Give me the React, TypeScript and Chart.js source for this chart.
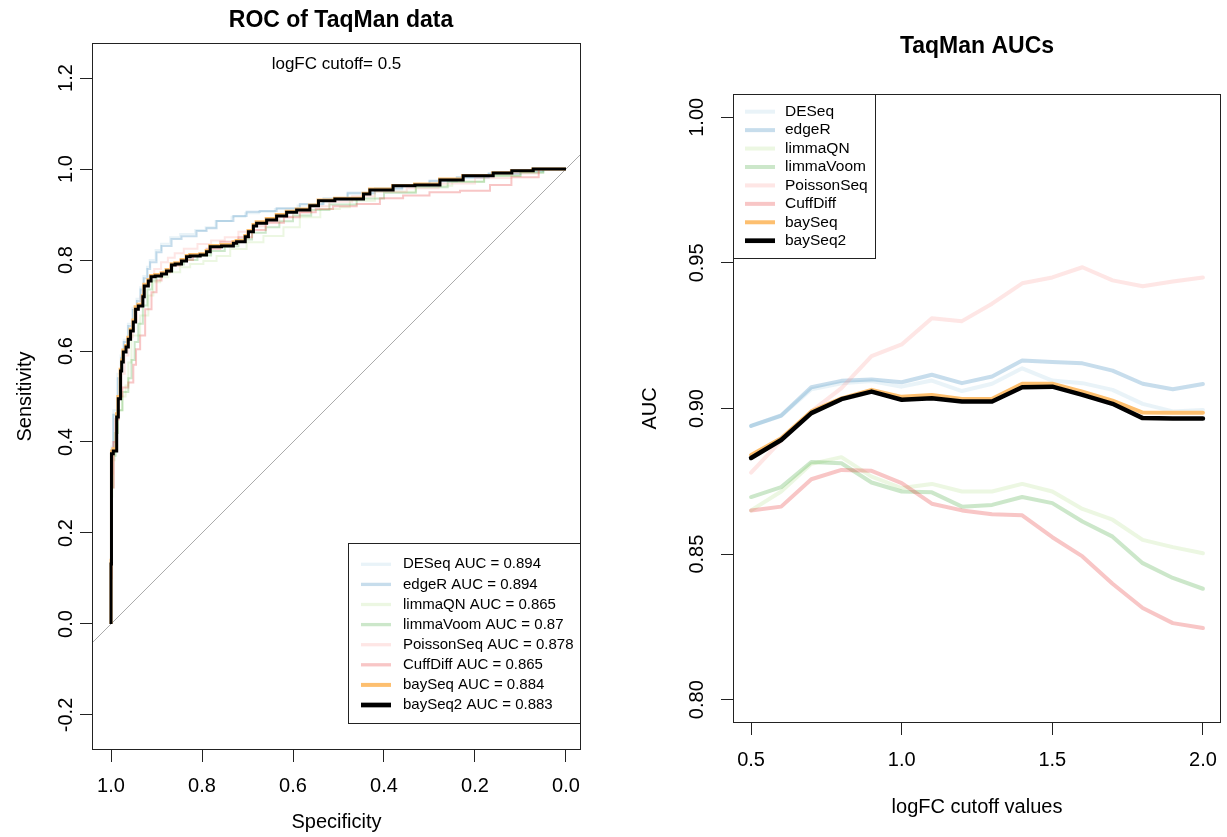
import React, { useEffect, useRef } from "react";
import { Chart, registerables } from "chart.js";
Chart.register(...registerables);

const FONT = "'Liberation Sans', Arimo, Arial, Helvetica, sans-serif";
Chart.defaults.font.family = FONT;

// ---------- shared series info ----------
const METHODS = ["DESeq", "edgeR", "limmaQN", "limmaVoom", "PoissonSeq", "CuffDiff", "baySeq", "baySeq2"];
const SERIES_COLORS = [
  "rgba(166,206,227,0.25)",
  "rgba(31,120,180,0.25)",
  "rgba(178,223,138,0.25)",
  "rgba(51,160,44,0.25)",
  "rgba(251,154,153,0.25)",
  "rgba(227,26,28,0.25)",
  "#FDBF6F",
  "#000000",
];
const ROC_AUC_LABELS = ["0.894", "0.894", "0.865", "0.87", "0.878", "0.865", "0.884", "0.883"];

// ---------- left panel (ROC) ----------
const SPEC_TICKS = [1.0, 0.8, 0.6, 0.4, 0.2, 0.0];
const SPEC_TICK_LABELS = ["1.0", "0.8", "0.6", "0.4", "0.2", "0.0"];
const SENS_TICKS = [-0.2, 0.0, 0.2, 0.4, 0.6, 0.8, 1.0, 1.2];
const SENS_TICK_LABELS = ["-0.2", "0.0", "0.2", "0.4", "0.6", "0.8", "1.0", "1.2"];

const DESEQ_SPEC = [1.0, 0.999, 0.995, 0.986, 0.979, 0.972, 0.963, 0.953, 0.944, 0.936, 0.929, 0.921, 0.915, 0.902, 0.89, 0.87, 0.848, 0.815, 0.792, 0.77, 0.735, 0.705, 0.675, 0.64, 0.59, 0.535, 0.48, 0.42, 0.36, 0.3, 0.24, 0.17, 0.1, 0.05, 0.0];
const DESEQ_SENS = [0.0, 0.15, 0.39, 0.47, 0.55, 0.59, 0.625, 0.66, 0.695, 0.715, 0.74, 0.765, 0.785, 0.8, 0.822, 0.836, 0.85, 0.857, 0.866, 0.872, 0.886, 0.895, 0.903, 0.906, 0.912, 0.92, 0.932, 0.945, 0.955, 0.963, 0.972, 0.98, 0.989, 0.995, 1.0];

const EDGER_SPEC = [1.0, 0.999, 0.995, 0.985, 0.978, 0.972, 0.962, 0.952, 0.943, 0.935, 0.928, 0.92, 0.914, 0.9, 0.889, 0.867, 0.845, 0.812, 0.79, 0.768, 0.731, 0.702, 0.673, 0.636, 0.585, 0.533, 0.48, 0.42, 0.36, 0.3, 0.24, 0.17, 0.1, 0.05, 0.0];
const EDGER_SENS = [0.0, 0.14, 0.38, 0.46, 0.54, 0.585, 0.62, 0.655, 0.69, 0.71, 0.735, 0.76, 0.78, 0.795, 0.817, 0.831, 0.846, 0.852, 0.864, 0.87, 0.886, 0.897, 0.906, 0.908, 0.914, 0.923, 0.935, 0.948, 0.958, 0.965, 0.974, 0.982, 0.99, 0.995, 1.0];

const LIMMAQN_SPEC = [1.0, 1.0, 0.997, 0.992, 0.985, 0.975, 0.968, 0.962, 0.955, 0.936, 0.918, 0.907, 0.892, 0.874, 0.848, 0.826, 0.797, 0.768, 0.738, 0.702, 0.665, 0.621, 0.585, 0.54, 0.497, 0.475, 0.42, 0.33, 0.25, 0.18, 0.1, 0.05, 0.0];
const LIMMAQN_SENS = [0.0, 0.2, 0.28, 0.36, 0.42, 0.47, 0.5, 0.524, 0.575, 0.634, 0.678, 0.722, 0.751, 0.762, 0.773, 0.784, 0.791, 0.798, 0.809, 0.824, 0.839, 0.853, 0.872, 0.894, 0.912, 0.916, 0.93, 0.95, 0.963, 0.972, 0.985, 0.993, 1.0];

const LIMMAVOOM_SPEC = [1.0, 1.0, 0.995, 0.99, 0.985, 0.975, 0.962, 0.955, 0.948, 0.94, 0.93, 0.92, 0.91, 0.9, 0.885, 0.865, 0.84, 0.81, 0.78, 0.75, 0.72, 0.69, 0.66, 0.63, 0.6, 0.56, 0.52, 0.46, 0.4, 0.33, 0.26, 0.18, 0.1, 0.05, 0.0];
const LIMMAVOOM_SENS = [0.0, 0.24, 0.3, 0.37, 0.42, 0.47, 0.51, 0.54, 0.58, 0.62, 0.66, 0.7, 0.735, 0.755, 0.765, 0.775, 0.79, 0.8, 0.81, 0.82, 0.83, 0.845, 0.86, 0.872, 0.885, 0.898, 0.91, 0.922, 0.935, 0.948, 0.96, 0.972, 0.985, 0.992, 1.0];

const POISSONSEQ_SPEC = [1.0, 0.999, 0.996, 0.99, 0.984, 0.977, 0.97, 0.962, 0.952, 0.943, 0.935, 0.926, 0.915, 0.905, 0.89, 0.875, 0.86, 0.84, 0.81, 0.78, 0.75, 0.72, 0.69, 0.66, 0.63, 0.6, 0.56, 0.52, 0.47, 0.42, 0.35, 0.28, 0.2, 0.12, 0.06, 0.0];
const POISSONSEQ_SENS = [0.0, 0.12, 0.33, 0.4, 0.45, 0.5, 0.55, 0.59, 0.63, 0.665, 0.695, 0.72, 0.745, 0.765, 0.78, 0.795, 0.805, 0.815, 0.825, 0.835, 0.843, 0.85, 0.862, 0.874, 0.885, 0.895, 0.905, 0.918, 0.928, 0.94, 0.95, 0.958, 0.968, 0.98, 0.99, 1.0];

const CUFFDIFF_SPEC = [1.0, 0.998, 0.994, 0.99, 0.983, 0.975, 0.962, 0.951, 0.945, 0.936, 0.925, 0.911, 0.9, 0.889, 0.87, 0.848, 0.82, 0.79, 0.76, 0.72, 0.69, 0.66, 0.62, 0.585, 0.55, 0.512, 0.46, 0.409, 0.358, 0.3, 0.233, 0.167, 0.12, 0.06, 0.0];
const CUFFDIFF_SENS = [0.0, 0.1, 0.3, 0.4, 0.45, 0.5, 0.52, 0.531, 0.57, 0.604, 0.634, 0.692, 0.729, 0.755, 0.773, 0.788, 0.8, 0.812, 0.825, 0.84, 0.85, 0.866, 0.882, 0.894, 0.905, 0.912, 0.918, 0.923, 0.936, 0.942, 0.949, 0.952, 0.965, 0.982, 1.0];

const BAYSEQ_SPEC = [1.0, 0.999, 0.996, 0.988, 0.985, 0.98, 0.977, 0.974, 0.968, 0.963, 0.958, 0.952, 0.947, 0.941, 0.931, 0.928, 0.919, 0.913, 0.904, 0.89, 0.879, 0.868, 0.86, 0.846, 0.835, 0.827, 0.805, 0.791, 0.783, 0.758, 0.732, 0.725, 0.706, 0.699, 0.688, 0.681, 0.659, 0.637, 0.615, 0.593, 0.564, 0.545, 0.509, 0.446, 0.432, 0.381, 0.333, 0.278, 0.227, 0.161, 0.12, 0.073, 0.0];
const BAYSEQ_SENS = [0.0, 0.14, 0.38, 0.385, 0.462, 0.5, 0.56, 0.58, 0.602, 0.612, 0.63, 0.648, 0.668, 0.697, 0.703, 0.722, 0.747, 0.757, 0.766, 0.768, 0.772, 0.779, 0.792, 0.794, 0.801, 0.81, 0.812, 0.814, 0.821, 0.832, 0.834, 0.84, 0.843, 0.854, 0.865, 0.878, 0.884, 0.891, 0.9, 0.907, 0.912, 0.921, 0.932, 0.936, 0.947, 0.956, 0.964, 0.967, 0.978, 0.986, 0.992, 0.996, 1.0];

const BAYSEQ2_SPEC = [1.0, 0.999, 0.995, 0.9875, 0.984, 0.979, 0.9765, 0.973, 0.967, 0.962, 0.957, 0.951, 0.946, 0.94, 0.93, 0.927, 0.918, 0.912, 0.903, 0.889, 0.878, 0.867, 0.859, 0.845, 0.834, 0.826, 0.804, 0.79, 0.782, 0.757, 0.731, 0.724, 0.705, 0.698, 0.687, 0.68, 0.658, 0.636, 0.614, 0.592, 0.563, 0.544, 0.508, 0.445, 0.431, 0.38, 0.332, 0.277, 0.226, 0.16, 0.119, 0.072, 0.0];
const BAYSEQ2_SENS = [0.0, 0.132, 0.374, 0.38, 0.455, 0.495, 0.556, 0.576, 0.598, 0.609, 0.626, 0.644, 0.664, 0.692, 0.699, 0.719, 0.743, 0.754, 0.763, 0.765, 0.769, 0.776, 0.789, 0.791, 0.798, 0.807, 0.809, 0.811, 0.818, 0.829, 0.831, 0.837, 0.84, 0.851, 0.862, 0.875, 0.881, 0.888, 0.897, 0.905, 0.91, 0.919, 0.93, 0.934, 0.945, 0.954, 0.963, 0.965, 0.976, 0.985, 0.991, 0.996, 1.0];

const ROC_SPEC = [DESEQ_SPEC, EDGER_SPEC, LIMMAQN_SPEC, LIMMAVOOM_SPEC, POISSONSEQ_SPEC, CUFFDIFF_SPEC, BAYSEQ_SPEC, BAYSEQ2_SPEC];
const ROC_SENS = [DESEQ_SENS, EDGER_SENS, LIMMAQN_SENS, LIMMAVOOM_SENS, POISSONSEQ_SENS, CUFFDIFF_SENS, BAYSEQ_SENS, BAYSEQ2_SENS];

const DIAG_SPEC = [1.2, -0.2];
const DIAG_SENS = [-0.2, 1.2];

// ---------- right panel (AUC vs cutoff) ----------
const CUTOFFS = [0.5, 0.6, 0.7, 0.8, 0.9, 1.0, 1.1, 1.2, 1.3, 1.4, 1.5, 1.6, 1.7, 1.8, 1.9, 2.0];
const CUTOFF_TICKS = [0.5, 1.0, 1.5, 2.0];
const CUTOFF_TICK_LABELS = ["0.5", "1.0", "1.5", "2.0"];
const AUC_TICKS = [0.8, 0.85, 0.9, 0.95, 1.0];
const AUC_TICK_LABELS = ["0.80", "0.85", "0.90", "0.95", "1.00"];

const AUC_DESEQ = [0.894, 0.8975, 0.9066, 0.9087, 0.9094, 0.9075, 0.9096, 0.906, 0.9085, 0.9138, 0.9096, 0.9087, 0.9064, 0.9016, 0.899, 0.8995];
const AUC_EDGER = [0.894, 0.8976, 0.9073, 0.9095, 0.91, 0.909, 0.9116, 0.9087, 0.911, 0.9165, 0.916, 0.9155, 0.913, 0.9085, 0.9066, 0.9084];
const AUC_LIMMAQN = [0.865, 0.8715, 0.881, 0.8833, 0.8766, 0.8727, 0.8741, 0.8715, 0.8715, 0.8741, 0.8715, 0.8655, 0.8618, 0.8549, 0.8524, 0.8503];
const AUC_LIMMAVOOM = [0.8696, 0.873, 0.8816, 0.8812, 0.8746, 0.8715, 0.8712, 0.8663, 0.8669, 0.8696, 0.8675, 0.8612, 0.856, 0.8469, 0.8418, 0.8381];
const AUC_POISSONSEQ = [0.878, 0.889, 0.899, 0.907, 0.918, 0.922, 0.931, 0.93, 0.936, 0.943, 0.945, 0.9485, 0.944, 0.942, 0.9436, 0.945];
const AUC_CUFFDIFF = [0.865, 0.8663, 0.8757, 0.8789, 0.8786, 0.8744, 0.8673, 0.865, 0.8637, 0.8633, 0.8558, 0.8492, 0.8398, 0.8315, 0.8263, 0.8246];
const AUC_BAYSEQ = [0.884, 0.8898, 0.899, 0.9035, 0.9064, 0.904, 0.9046, 0.9033, 0.9033, 0.9085, 0.9085, 0.9058, 0.9027, 0.8986, 0.8985, 0.8985];
const AUC_BAYSEQ2 = [0.883, 0.8892, 0.8984, 0.9032, 0.9058, 0.903, 0.9035, 0.9024, 0.9024, 0.9073, 0.9075, 0.9047, 0.9016, 0.8967, 0.8966, 0.8966];
const AUC_SERIES = [AUC_DESEQ, AUC_EDGER, AUC_LIMMAQN, AUC_LIMMAVOOM, AUC_POISSONSEQ, AUC_CUFFDIFF, AUC_BAYSEQ, AUC_BAYSEQ2];

// ---------- layout / style constants ----------
const H = 837;
const LEFT_W = 613;
const RIGHT_X = 613;
const RIGHT_W = 614;
const ROC_LINE_W = [2, 2, 2, 2, 2, 2, 3, 3];
const ROC_LEGEND_LINE_W = [3.3, 3.3, 3.3, 3.3, 3.3, 3.3, 4, 4.7];
const AUC_LINE_W = [4, 4, 4, 4, 4, 4, 4, 4.5];
const AUC_LEGEND_LINE_W = [4, 4, 4, 4, 4, 4, 4, 4.7];
const AXIS_COLOR = "#222";

function tickLabelFrom(ticks: number[], labels: string[]) {
  return (v: number) => {
    let idx = 0;
    let best = Infinity;
    ticks.forEach((t, i) => {
      const d = Math.abs(t - v);
      if (d < best) { best = d; idx = i; }
    });
    return labels[idx];
  };
}

function boxPlugin(id: string, draw: (ctx: CanvasRenderingContext2D, chart: any) => void) {
  return {
    id,
    afterDraw(chart: any) {
      const ctx = chart.ctx as CanvasRenderingContext2D;
      const a = chart.chartArea;
      ctx.save();
      ctx.strokeStyle = AXIS_COLOR;
      ctx.lineWidth = 1;
      ctx.strokeRect(Math.round(a.left) + 0.5, Math.round(a.top) + 0.5, Math.round(a.right - a.left) - 1, Math.round(a.bottom - a.top) - 1);
      ctx.restore();
      ctx.save();
      draw(ctx, chart);
      ctx.restore();
    },
  };
}

function drawLegend(ctx: CanvasRenderingContext2D, o: { left: number; top: number; right: number; bottom: number; x1: number; x2: number; tx: number; y0: number; dy: number; size: number; labels: string[]; widths: number[] }) {
  ctx.strokeStyle = AXIS_COLOR;
  ctx.lineWidth = 1;
  ctx.strokeRect(o.left + 0.5, o.top + 0.5, o.right - o.left - 1, o.bottom - o.top - 1);
  ctx.font = `${o.size}px ${FONT}`;
  ctx.textBaseline = "middle";
  ctx.textAlign = "left";
  o.labels.forEach((lab, i) => {
    const y = o.y0 + i * o.dy;
    ctx.strokeStyle = SERIES_COLORS[i];
    ctx.lineWidth = o.widths[i];
    ctx.lineCap = "butt";
    ctx.beginPath();
    ctx.moveTo(o.x1, y);
    ctx.lineTo(o.x2, y);
    ctx.stroke();
    ctx.fillStyle = "#000";
    ctx.fillText(lab, o.tx, y);
  });
}

function axisCommon(fitSize: (s: any) => void) {
  return {
    afterFit: (s: any) => {
      fitSize(s);
      s.paddingLeft = 0; s.paddingRight = 0; s.paddingTop = 0; s.paddingBottom = 0;
    },
    grid: { display: true, drawOnChartArea: false, drawTicks: true, tickLength: 12, color: AXIS_COLOR, lineWidth: 1 },
    border: { display: false },
  };
}

function makeLeftConfig(): any {
  const datasets: any[] = METHODS.map((m, i) => ({
    label: m,
    data: ROC_SPEC[i].map((s, j) => ({ x: s, y: ROC_SENS[i][j] })),
    borderColor: SERIES_COLORS[i],
    borderWidth: ROC_LINE_W[i],
    pointRadius: 0,
    stepped: "after",
    fill: false,
    order: METHODS.length - i,
    borderJoinStyle: "miter",
  }));
  datasets.push({
    label: "diagonal",
    data: DIAG_SPEC.map((s, j) => ({ x: s, y: DIAG_SENS[j] })),
    borderColor: "#aaaaaa",
    borderWidth: 1,
    pointRadius: 0,
    fill: false,
    order: 100,
  });
  const decor = boxPlugin("leftDecor", (ctx) => {
    ctx.fillStyle = "#000";
    ctx.textAlign = "center";
    ctx.textBaseline = "alphabetic";
    ctx.font = `bold 23px ${FONT}`;
    ctx.fillText("ROC of TaqMan data", 341, 27);
    ctx.font = `17px ${FONT}`;
    ctx.fillText("logFC cutoff= 0.5", 336.5, 68.5);
    drawLegend(ctx, {
      left: 348, top: 543, right: 581, bottom: 724, x1: 361, x2: 391, tx: 403, y0: 564.3, dy: 20.1, size: 15,
      labels: METHODS.map((m, i) => `${m} AUC = ${ROC_AUC_LABELS[i]}`),
      widths: ROC_LEGEND_LINE_W,
    });
  });
  return {
    type: "line",
    data: { datasets },
    options: {
      animation: false,
      responsive: false,
      events: [],
      layout: { padding: { left: 0, top: 43, right: LEFT_W - 581, bottom: 0 } },
      plugins: { legend: { display: false }, title: { display: false }, tooltip: { enabled: false } },
      scales: {
        x: {
          type: "linear",
          reverse: true,
          min: -0.033,
          max: 1.0418,
          afterBuildTicks: (s: any) => { s.ticks = SPEC_TICKS.map((v) => ({ value: v })); },
          ...axisCommon((s) => { s.height = H - 750; }),
          ticks: { autoSkip: false, maxRotation: 0, padding: 12, color: "#000", font: { size: 20, family: FONT }, callback: tickLabelFrom(SPEC_TICKS, SPEC_TICK_LABELS) },
          title: { display: true, text: "Specificity", color: "#000", font: { size: 20, family: FONT }, padding: { top: 0, bottom: 3 } },
        },
        y: {
          type: "linear",
          min: -0.277,
          max: 1.277,
          afterBuildTicks: (s: any) => { s.ticks = SENS_TICKS.map((v) => ({ value: v })); },
          ...axisCommon((s) => { s.width = 92; }),
          ticks: { autoSkip: false, minRotation: 90, maxRotation: 90, crossAlign: "center", padding: -4, color: "#000", font: { size: 20, family: FONT }, callback: tickLabelFrom(SENS_TICKS, SENS_TICK_LABELS) },
          title: { display: true, text: "Sensitivity", color: "#000", font: { size: 20, family: FONT }, padding: { top: 13, bottom: 0 } },
        },
      },
    },
    plugins: [decor],
  };
}

function makeRightConfig(): any {
  const datasets: any[] = METHODS.map((m, i) => ({
    label: m,
    data: CUTOFFS.map((c, j) => ({ x: c, y: AUC_SERIES[i][j] })),
    borderColor: SERIES_COLORS[i],
    borderWidth: AUC_LINE_W[i],
    pointRadius: 0,
    fill: false,
    tension: 0,
    order: METHODS.length - i,
    borderCapStyle: "round",
    borderJoinStyle: "round",
  }));
  const decor = boxPlugin("rightDecor", (ctx) => {
    ctx.fillStyle = "#000";
    ctx.textAlign = "center";
    ctx.textBaseline = "alphabetic";
    ctx.font = `bold 23px ${FONT}`;
    ctx.fillText("TaqMan AUCs", 977 - RIGHT_X, 52.5);
    drawLegend(ctx, {
      left: 733 - RIGHT_X, top: 94, right: 876 - RIGHT_X, bottom: 259, x1: 745 - RIGHT_X, x2: 775 - RIGHT_X, tx: 785 - RIGHT_X, y0: 111.7, dy: 18.43, size: 15.5,
      labels: METHODS,
      widths: AUC_LEGEND_LINE_W,
    });
  });
  return {
    type: "line",
    data: { datasets },
    options: {
      animation: false,
      responsive: false,
      events: [],
      layout: { padding: { left: 0, top: 94, right: RIGHT_W - (1221 - RIGHT_X), bottom: 0 } },
      plugins: { legend: { display: false }, title: { display: false }, tooltip: { enabled: false } },
      scales: {
        x: {
          type: "linear",
          min: 0.44,
          max: 2.06,
          afterBuildTicks: (s: any) => { s.ticks = CUTOFF_TICKS.map((v) => ({ value: v })); },
          ...axisCommon((s) => { s.height = H - 723; }),
          ticks: { autoSkip: false, maxRotation: 0, padding: 13.7, color: "#000", font: { size: 20, family: FONT }, callback: tickLabelFrom(CUTOFF_TICKS, CUTOFF_TICK_LABELS) },
          title: { display: true, text: "logFC cutoff values", color: "#000", font: { size: 20, family: FONT }, padding: { top: 0, bottom: 18 } },
        },
        y: {
          type: "linear",
          min: 0.792,
          max: 1.008,
          afterBuildTicks: (s: any) => { s.ticks = AUC_TICKS.map((v) => ({ value: v })); },
          ...axisCommon((s) => { s.width = 733 - RIGHT_X; }),
          ticks: { autoSkip: false, minRotation: 90, maxRotation: 90, crossAlign: "center", padding: 4.5, color: "#000", font: { size: 20, family: FONT }, callback: tickLabelFrom(AUC_TICKS, AUC_TICK_LABELS) },
          title: { display: true, text: "AUC", color: "#000", font: { size: 20, family: FONT }, padding: { top: 25, bottom: 0 } },
        },
      },
    },
    plugins: [decor],
  };
}

function ChartCanvas({ x, w, makeConfig }: { x: number; w: number; makeConfig: () => any }) {
  const ref = useRef<HTMLCanvasElement | null>(null);
  useEffect(() => {
    if (!ref.current) return;
    const chart = new Chart(ref.current, makeConfig());
    return () => chart.destroy();
  }, []);
  return (
    <canvas
      ref={ref}
      width={w}
      height={H}
      style={{ position: "absolute", left: x, top: 0, width: w, height: H, display: "block" }}
    />
  );
}

export default function App() {
  useEffect(() => {
    document.body.style.margin = "0";
    document.body.style.background = "#fff";
  }, []);
  return (
    <div style={{ position: "absolute", left: 0, top: 0, width: 1227, height: H, background: "#fff", overflow: "hidden" }}>
      <ChartCanvas x={0} w={LEFT_W} makeConfig={makeLeftConfig} />
      <ChartCanvas x={RIGHT_X} w={RIGHT_W} makeConfig={makeRightConfig} />
    </div>
  );
}
